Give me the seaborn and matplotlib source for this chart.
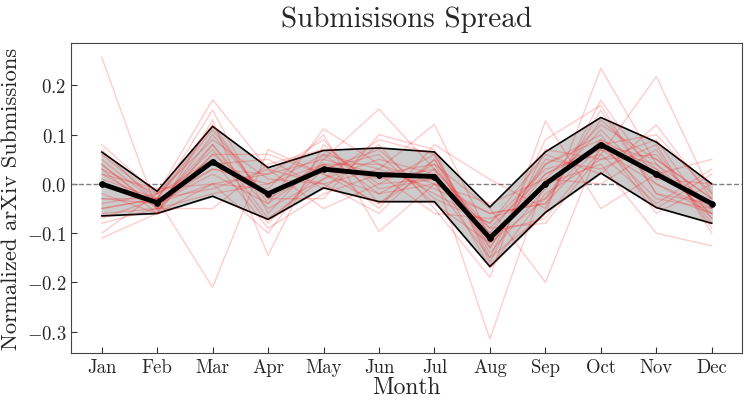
import matplotlib
matplotlib.use("Agg")
import matplotlib.pyplot as plt
import numpy as np
import pandas as pd
import seaborn as sns

MONTHS = ["Jan", "Feb", "Mar", "Apr", "May", "Jun", "Jul", "Aug", "Sep", "Oct", "Nov", "Dec"]

# yearly normalized submissions (one row per year)
years = [
    [0.258, -0.055, 0.06, -0.02, 0.04, 0.01, 0.03, -0.09, 0.02, 0.07, 0.0, -0.05],
    [-0.03, -0.03, -0.21, 0.07, 0.02, -0.04, 0.05, -0.12, -0.03, 0.09, 0.03, -0.06],
    [0.02, -0.04, 0.08, -0.05, 0.01, 0.05, 0.02, -0.315, 0.01, 0.12, 0.05, -0.03],
    [-0.05, -0.03, 0.03, 0.0, 0.06, -0.02, 0.0, -0.15, -0.06, 0.235, 0.04, -0.07],
    [0.04, -0.05, 0.1, -0.03, 0.03, 0.07, -0.03, -0.08, 0.03, 0.06, 0.218, -0.02],
    [-0.1, -0.02, 0.05, -0.09, -0.02, 0.02, 0.04, -0.05, -0.2, 0.08, -0.03, -0.05],
    [0.07, -0.04, 0.0, 0.02, 0.05, 0.152, 0.03, -0.17, -0.02, 0.05, 0.06, -0.08],
    [-0.02, -0.06, 0.13, -0.145, 0.08, -0.01, 0.01, -0.1, 0.04, 0.1, -0.05, 0.02],
    [0.03, -0.02, 0.171, 0.03, -0.05, 0.0, 0.06, -0.13, 0.05, 0.03, 0.08, -0.1],
    [-0.11, -0.06, 0.0, -0.01, 0.1, -0.097, 0.0, -0.06, -0.04, 0.15, -0.02, -0.04],
    [0.08, -0.02, 0.04, 0.05, -0.01, 0.08, -0.05, -0.19, 0.128, -0.05, 0.02, 0.05],
    [0.01, -0.03, 0.15, -0.06, 0.06, 0.03, 0.121, -0.11, 0.0, 0.04, -0.1, -0.126],
    [-0.06, -0.05, -0.02, 0.0, 0.04, -0.05, 0.08, 0.009, -0.05, 0.17, 0.01, 0.0],
    [0.05, -0.04, 0.02, -0.04, 0.112, 0.04, -0.02, -0.08, 0.06, 0.02, 0.12, -0.03],
    [-0.04, -0.02, 0.09, 0.01, 0.0, -0.06, 0.05, -0.14, -0.01, 0.11, 0.0, -0.06],
    [0.0, -0.04, 0.07, -0.08, 0.03, 0.06, -0.04, -0.12, 0.02, 0.08, 0.05, -0.03],
    [0.04, -0.05, -0.05, 0.04, 0.07, 0.0, 0.01, -0.09, -0.08, 0.06, -0.04, 0.03],
    [-0.07, -0.03, 0.11, -0.03, -0.03, 0.1, 0.07, -0.16, 0.07, 0.05, 0.09, -0.07],
    [0.02, -0.01, 0.0, -0.1, 0.05, 0.02, -0.06, -0.07, -0.03, 0.13, 0.03, -0.05],
    [-0.08, -0.05, 0.06, 0.06, 0.02, -0.02, 0.04, -0.13, 0.04, 0.09, -0.06, 0.0],
    [0.06, -0.03, 0.12, -0.04, 0.04, 0.04, 0.0, -0.04, 0.01, 0.0, 0.07, -0.09],
    [-0.03, -0.04, 0.03, 0.02, 0.09, -0.04, 0.03, -0.1, -0.07, 0.07, 0.04, -0.04],
    [0.03, -0.06, 0.08, -0.07, 0.01, 0.09, 0.06, -0.15, 0.09, 0.16, -0.02, -0.06],
    [-0.05, -0.03, -0.01, 0.03, 0.0, 0.03, -0.01, -0.06, -0.04, 0.08, 0.1, -0.02],
]

mean_vals = [0.0, -0.038, 0.045, -0.02, 0.03, 0.019, 0.015, -0.11, 0.0, 0.08, 0.02, -0.04]
upper_vals = [0.065, -0.015, 0.117, 0.033, 0.068, 0.073, 0.065, -0.047, 0.065, 0.135, 0.085, 0.0]
lower_vals = [-0.065, -0.06, -0.025, -0.072, -0.008, -0.036, -0.036, -0.168, -0.058, 0.022, -0.048, -0.08]

sns.set_style("white")
plt.rcParams["font.family"] = "serif"
plt.rcParams["font.serif"] = ["cmr10"]
plt.rcParams["mathtext.fontset"] = "cm"
plt.rcParams["axes.formatter.use_mathtext"] = True
plt.rcParams["axes.unicode_minus"] = True

month_num = np.arange(1, 13)
long = pd.DataFrame(
    [(i, m, v) for i, row in enumerate(years) for m, v in zip(month_num, row)],
    columns=["year", "month", "value"],
)
stats = pd.DataFrame({"month": month_num, "mean": mean_vals, "upper": upper_vals, "lower": lower_vals})

fig, ax = plt.subplots(figsize=(7.49, 4.06), dpi=100)
fig.subplots_adjust(left=0.095, right=0.991, top=0.892, bottom=0.128)

ax.fill_between(stats["month"], stats["lower"], stats["upper"], color="#cccccc", zorder=2)
sns.lineplot(data=stats, x="month", y="upper", color="black", linewidth=1.2, ax=ax, zorder=3)
sns.lineplot(data=stats, x="month", y="lower", color="black", linewidth=1.2, ax=ax, zorder=3)
sns.lineplot(data=long, x="month", y="value", units="year", estimator=None,
             color="red", alpha=0.2, linewidth=1, ax=ax, zorder=4)
sns.lineplot(data=stats, x="month", y="mean", color="black", linewidth=3.5,
             marker="o", markersize=4, markeredgecolor="black", ax=ax, zorder=5)
ax.axhline(0, color="gray", linestyle="--", linewidth=1, zorder=1)

ax.set_xticks(month_num)
ax.set_xticklabels(MONTHS)
ax.set_yticks([-0.3, -0.2, -0.1, 0.0, 0.1, 0.2])
ax.tick_params(axis="both", direction="in", labelsize=13.5, length=4, color="#333333")
ax.tick_params(left=True, bottom=True)
for s in ax.spines.values():
    s.set_color("#444444")
ax.set_title("Submisisons Spread", fontsize=21, pad=12)
ax.set_xlabel("Month", fontsize=17, labelpad=0)
ax.set_ylabel("Normalized arXiv Submissions", fontsize=16.3)

fig.savefig("out.png", dpi=100)
